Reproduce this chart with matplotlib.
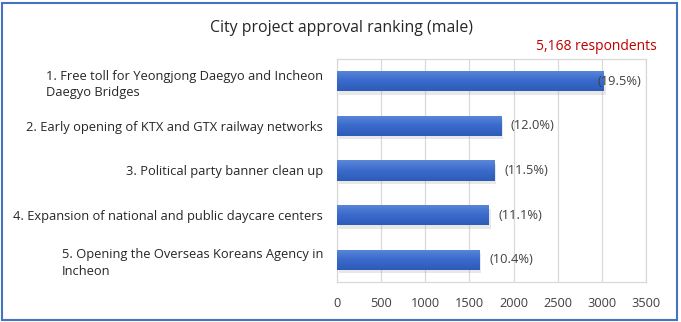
import numpy as np
import matplotlib
matplotlib.use("Agg")
import matplotlib.pyplot as plt
import matplotlib.patheffects as pe
from matplotlib.colors import LinearSegmentedColormap
from matplotlib.patches import Rectangle

plt.rcParams["font.family"] = ["Open Sans", "DejaVu Sans"]

categories = [
    "1. Free toll for Yeongjong Daegyo and Incheon\nDaegyo Bridges",
    "2. Early opening of KTX and GTX railway networks",
    "3. Political party banner clean up",
    "4. Expansion of national and public daycare centers",
    "5. Opening the Overseas Koreans Agency in\nIncheon",
]
counts = [3023, 1860, 1783, 1721, 1612]
shares = [19.5, 12.0, 11.5, 11.1, 10.4]
xticks = [0, 500, 1000, 1500, 2000, 2500, 3000, 3500]
title = "City project approval ranking (male)"
respondents = "5,168 respondents"

W, H = 681, 322
fig = plt.figure(figsize=(W / 100, H / 100), dpi=100)
ax = fig.add_axes([337 / W, 1 - 282 / H, 309 / W, 223 / H])

grad = LinearSegmentedColormap.from_list("bar", ["#5b88d9", "#3a6acb", "#2d5bb9"])
ramp = np.linspace(0, 1, 64).reshape(-1, 1)

ypos = np.arange(len(categories))
bh = 0.45
bars = ax.barh(ypos, counts, height=bh, color="#3d6dcc", zorder=3,
               path_effects=[pe.SimplePatchShadow(offset=(1.5, -2.5), shadow_rgbFace="#9a9a9a", alpha=0.22),
                             pe.Normal()])
for y, v, b in zip(ypos, counts, bars):
    im = ax.imshow(ramp, cmap=grad, aspect="auto", zorder=4,
                   extent=[0, v, y + bh / 2, y - bh / 2])
    im.set_clip_path(b)

xmax = xticks[-1]
for y, v, s in zip(ypos, counts, shares):
    lab = f"({s:.1f}%)"
    if v > xmax * 0.85:
        ax.annotate(lab, (xmax, y), xytext=(-3, 0), textcoords="offset points",
                    ha="right", va="center", fontsize=9.3, color="#404040", zorder=6)
    else:
        ax.annotate(lab, (v, y), xytext=(7, 0), textcoords="offset points",
                    ha="left", va="center", fontsize=9.3, color="#404040", zorder=6)

ax.set_xlim(0, xmax)
ax.set_ylim(len(categories) - 0.5, -0.5)
ax.set_xticks(xticks)
ax.set_xticklabels([str(t) for t in xticks], fontsize=9.2, color="#404040")
ax.set_yticks(ypos)
ax.set_yticklabels(categories, fontsize=9.3, color="#262626", ha="right",
                   multialignment="left", linespacing=1.35)
ax.tick_params(axis="both", length=0)
ax.tick_params(axis="x", pad=11)
ax.tick_params(axis="y", pad=10)
ax.grid(axis="x", color="#d9d9d9", lw=0.9, zorder=0)
for sp in ax.spines.values():
    sp.set_color("#d9d9d9")
    sp.set_linewidth(0.9)

fig.text(341 / W, 1 - 28 / H, title, ha="center", va="center", fontsize=11.4, color="#262626")
fig.text(657 / W, 1 - 46 / H, respondents, ha="right", va="center", fontsize=10, color="#c00000")

fig.add_artist(Rectangle((2 / W, 2 / H), 675 / W, 317 / H, transform=fig.transFigure,
                         fill=False, edgecolor="#4472c4", lw=1.5))

fig.savefig("out.png", dpi=100)
